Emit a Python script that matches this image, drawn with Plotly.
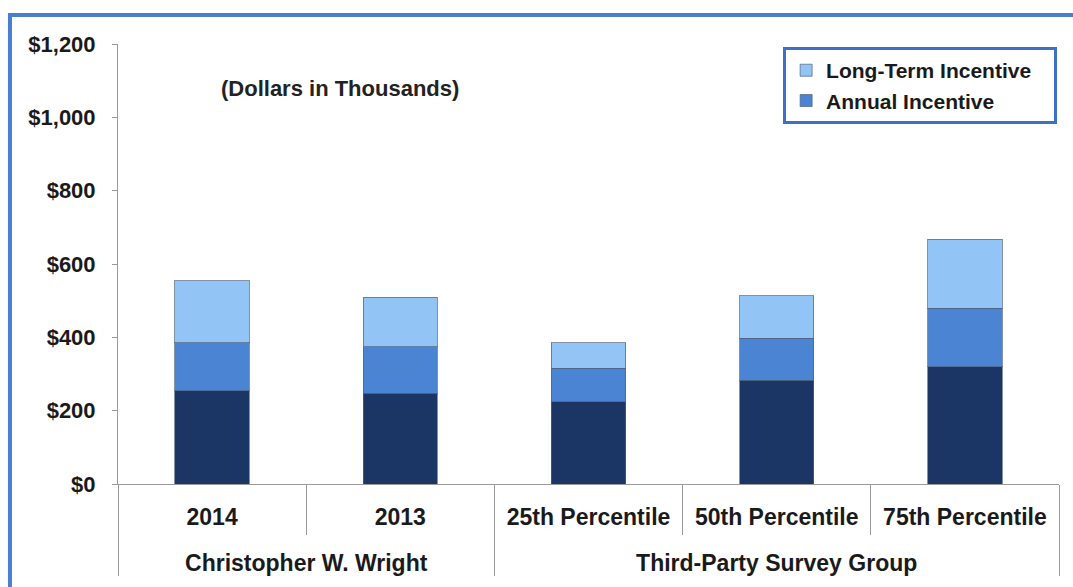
import plotly.graph_objects as go

groups = ["<br>Christopher W. Wright", "<br>Christopher W. Wright",
          "<br>Third-Party Survey Group", "<br>Third-Party Survey Group", "<br>Third-Party Survey Group"]
categories = ["2014", "2013", "25th Percentile", "50th Percentile", "75th Percentile"]

base_salary = [255, 248, 224, 283, 320]
annual_incentive = [130, 126, 92, 115, 160]
long_term_incentive = [170, 136, 69, 115, 188]

y_ticks = [0, 200, 400, 600, 800, 1000, 1200]
y_tick_text = ["${:,}".format(v) for v in y_ticks]

FONT = "Liberation Sans"
TXT = "#1a1a1a"
x = [groups, categories]
PAD = "&nbsp;&nbsp;&nbsp;"

fig = go.Figure()
fig.add_trace(go.Bar(x=x, y=base_salary, name="Base Salary", showlegend=False,
                     marker=dict(color="#1b3664", line=dict(color="rgba(80,100,130,0.7)", width=1))))
fig.add_trace(go.Bar(x=x, y=annual_incentive, name="Annual Incentive" + PAD,
                     marker=dict(color="#4a84d2", line=dict(color="rgba(80,100,130,0.7)", width=1))))
fig.add_trace(go.Bar(x=x, y=long_term_incentive, name="Long-Term Incentive" + PAD,
                     marker=dict(color="#92c4f5", line=dict(color="rgba(80,100,130,0.7)", width=1))))

fig.update_layout(
    width=1073, height=587,
    margin=dict(l=118, r=14, t=44, b=103, autoexpand=False),
    barmode="stack", bargap=0.605,
    plot_bgcolor="white", paper_bgcolor="white",
    font=dict(family=FONT, size=22, color=TXT, weight="bold"),
    legend=dict(x=0.998, xanchor="right", y=0.993, yanchor="top",
                traceorder="reversed", bgcolor="white",
                bordercolor="#3d70c6", borderwidth=3,
                font=dict(family=FONT, size=21, color=TXT, weight="bold")),
    annotations=[dict(text="(Dollars in Thousands)", xref="paper", yref="paper",
                      x=0.236, y=0.9, xanchor="center", yanchor="middle", showarrow=False,
                      font=dict(family=FONT, size=22, color="#222222", weight="bold"))],
    shapes=[dict(type="rect", xref="paper", yref="paper",
                 x0=-0.1148, x1=1.02, y0=-0.3, y1=1.066,
                 line=dict(color="#4a7ed0", width=4), fillcolor="rgba(0,0,0,0)")],
)
fig.update_yaxes(range=[0, 1200], tickmode="array", tickvals=y_ticks, ticktext=y_tick_text,
                 showgrid=False, zeroline=False, showline=True, linecolor="#9a9a9a", linewidth=1,
                 ticks="outside", ticklen=5, tickcolor="#9a9a9a", ticklabelstandoff=12,
                 tickfont=dict(family=FONT, size=22, color=TXT, weight="bold"))
fig.update_xaxes(type="multicategory", showgrid=False, showline=True, linecolor="#9a9a9a", linewidth=1,
                 ticks="outside", ticklen=50, tickcolor="#9a9a9a", ticklabelstandoff=12,
                 showdividers=True, dividercolor="#9a9a9a", dividerwidth=1,
                 tickfont=dict(family=FONT, size=23, color=TXT, weight="bold"))

fig.write_html("out.html", config={"displayModeBar": False},
               post_script="document.body.style.margin='0';")
